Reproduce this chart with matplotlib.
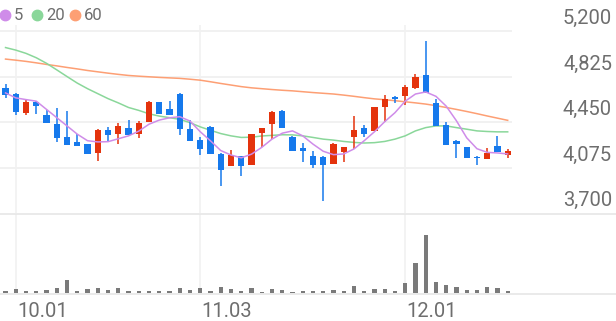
import numpy as np
import matplotlib
matplotlib.use('Agg')
import matplotlib.pyplot as plt
from matplotlib.lines import Line2D

plt.rcParams['font.family'] = ['Roboto', 'DejaVu Sans']

# daily candles, index 0..49
opens = [4730, 4681, 4526, 4613, 4505, 4437, 4323, 4282, 4268, 4195,
         4382, 4355, 4404, 4350, 4450, 4613, 4554, 4684, 4396, 4301,
         4410, 4187, 4086, 4173, 4092, 4358, 4437, 4540, 4323, 4233,
         4173, 4165, 4105, 4206, 4328, 4399, 4377, 4573, 4654, 4662,
         4730, 4834, 4608, 4426, 4296, 4241, 4160, 4146, 4255, 4181]
highs = [4763, 4690, 4643, 4627, 4546, 4562, 4540, 4355, 4268, 4391,
         4410, 4445, 4464, 4459, 4622, 4613, 4622, 4690, 4464, 4323,
         4418, 4192, 4219, 4173, 4350, 4404, 4540, 4546, 4336, 4274,
         4209, 4173, 4274, 4247, 4499, 4426, 4573, 4676, 4662, 4752,
         4844, 5116, 4641, 4453, 4301, 4241, 4173, 4233, 4336, 4228]
lows = [4649, 4505, 4505, 4513, 4445, 4282, 4260, 4255, 4187, 4127,
        4282, 4268, 4344, 4317, 4450, 4513, 4507, 4344, 4296, 4181,
        4187, 3921, 4086, 4002, 4092, 4241, 4309, 4399, 4209, 4119,
        4070, 3801, 4105, 4119, 4228, 4328, 4377, 4453, 4608, 4589,
        4725, 4690, 4418, 4260, 4154, 4154, 4097, 4146, 4200, 4154]
closes = [4670, 4532, 4613, 4586, 4445, 4315, 4260, 4255, 4187, 4382,
          4344, 4418, 4344, 4445, 4613, 4513, 4507, 4391, 4296, 4228,
          4187, 4056, 4181, 4086, 4350, 4404, 4532, 4399, 4209, 4214,
          4097, 4097, 4268, 4241, 4385, 4355, 4573, 4641, 4643, 4736,
          4825, 4690, 4418, 4260, 4268, 4154, 4151, 4192, 4200, 4214]
volume = [5, 13, 7, 5, 10, 16, 40, 6, 13, 15,
          9, 16, 7, 7, 7, 6, 6, 15, 9, 15,
          6, 18, 12, 7, 15, 4, 11, 8, 4, 6,
          5, 6, 9, 7, 20, 5, 11, 12, 6, 30,
          89, 173, 32, 23, 19, 8, 10, 18, 15, 7]

# moving average lines
ma5 = [4690, 4649, 4635, 4622, 4554, 4486, 4418, 4350, 4296, 4286,
       4288, 4312, 4336, 4375, 4432, 4466, 4485, 4494, 4458, 4370,
       4295, 4215, 4178, 4155, 4185, 4241, 4309, 4358, 4377, 4336,
       4268, 4209, 4181, 4187, 4228, 4296, 4370, 4453, 4527, 4622,
       4681, 4698, 4662, 4581, 4460, 4320, 4230, 4200, 4195, 4187]
ma20 = [5064, 5043, 5016, 4980, 4934, 4880, 4825, 4771, 4725, 4684,
        4643, 4608, 4570, 4546, 4518, 4499, 4486, 4472, 4445, 4410,
        4382, 4355, 4336, 4323, 4325, 4335, 4340, 4345, 4344, 4336,
        4323, 4309, 4301, 4290, 4282, 4277, 4280, 4290, 4309, 4336,
        4377, 4404, 4418, 4418, 4404, 4391, 4377, 4372, 4369, 4369]
ma60 = [4969, 4960, 4950, 4938, 4925, 4913, 4900, 4888, 4875, 4864,
        4853, 4843, 4834, 4828, 4823, 4818, 4814, 4810, 4803, 4795,
        4782, 4768, 4755, 4742, 4732, 4725, 4718, 4712, 4707, 4700,
        4693, 4687, 4681, 4672, 4662, 4651, 4641, 4634, 4626, 4617,
        4608, 4598, 4585, 4570, 4554, 4537, 4519, 4500, 4482, 4464]

date_idx = [1, 19, 39]
date_labels = ['10.01', '11.03', '12.01']
price_ticks = [3700, 4075, 4450, 4825, 5200]

red = '#e4330d'
blue = '#1679ec'
c5, c20, c60 = '#cf8ce9', '#8ad79a', '#fd9f74'
grid = '#f1f1f1'
txt = '#6e6e6e'

W, H = 616, 321
fig = plt.figure(figsize=(W / 100, H / 100), dpi=100)
fig.patch.set_facecolor('white')


def box(x0, y0, x1, y1):
    return [x0 / W, 1 - y1 / H, (x1 - x0) / W, (y1 - y0) / H]


ax = fig.add_axes(box(0, 25, 512, 213))
axv = fig.add_axes(box(0, 214, 512, 293))

x = np.arange(len(opens))
o = np.array(opens)
c = np.array(closes)
up = c >= o
colors = np.where(up, red, blue)

for a in (ax, axv):
    a.set_xlim(-0.54, 49.42)
    for s in a.spines.values():
        s.set_visible(False)
    a.set_xticks([])
    a.set_yticks([])
    for d in date_idx:
        a.axvline(d, color=grid, lw=1.2, zorder=0)

ax.set_ylim(3700, 5250)
for p in price_ticks[1:]:
    ax.axhline(p, color=grid, lw=1.4, zorder=0)

ax.plot(x, ma60, color=c60, lw=1.1, zorder=2)
ax.plot(x, ma20, color=c20, lw=1.1, zorder=2)

ax.vlines(x, lows, highs, colors=colors, lw=1.1, zorder=3)
body_lo = np.minimum(o, c)
body_h = np.maximum(np.abs(c - o), 10)
ax.bar(x, body_h, bottom=body_lo, width=0.6, color=colors, zorder=4)

ax.plot(x, ma5, color=c5, lw=1.1, zorder=5)

axv.set_ylim(0, 237)
axv.bar(x, volume, width=0.42, color='#7a7a7a', zorder=3)

# full width separator lines
for yy in (213.5, 293.5):
    fig.add_artist(Line2D([0, 1], [1 - yy / H, 1 - yy / H],
                          transform=fig.transFigure, color='#e6e6e6', lw=1.2))

# price labels above the grid lines, right side
for p in price_ticks:
    ax.annotate(f'{p:,}', xy=(612 / W, p), xycoords=('figure fraction', 'data'),
                xytext=(0, 5), textcoords='offset points',
                ha='right', va='baseline', fontsize=14.5, color=txt)

# date labels
for d, lab in zip(date_idx, date_labels):
    axv.annotate(lab, xy=(d, 0), xycoords=('data', 'axes fraction'),
                 xytext=(1, -17.5), textcoords='offset points',
                 ha='left', va='baseline', fontsize=14.5, color=txt)

# legend
for px, col, lab in [(5, c5, '5'), (37, c20, '20'), (75, c60, '60')]:
    fig.add_artist(Line2D([px / W], [1 - 15 / H], transform=fig.transFigure,
                          marker='o', ms=7.5, color=col, mec=col))
    fig.text((px + 9) / W, 1 - 15 / H, lab, ha='left', va='center',
             fontsize=12, color=txt)

fig.savefig('out.png', dpi=100, facecolor='white')
